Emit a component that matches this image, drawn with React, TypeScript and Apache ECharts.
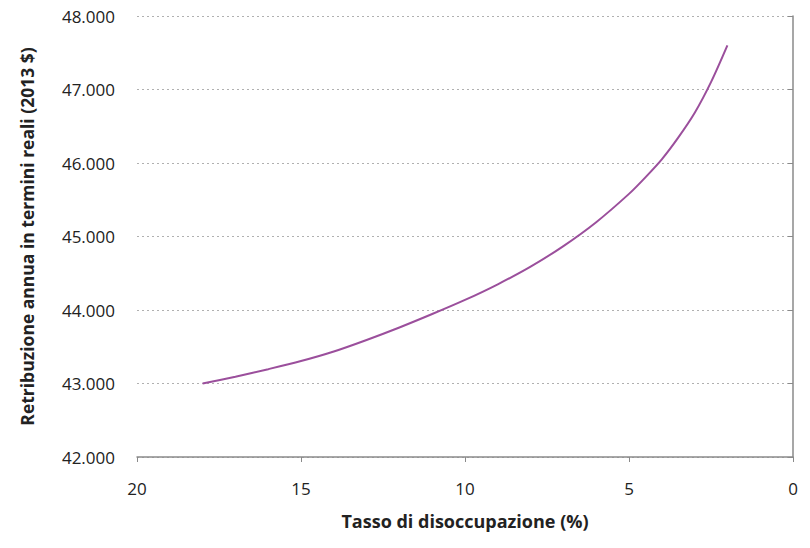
import React, { useEffect, useRef } from "react";
import * as echarts from "echarts";

const unemployment = [18, 17, 16, 15, 14, 13, 12, 11, 10, 9, 8, 7, 6, 5, 4.5, 4, 3.5, 3, 2.5, 2];
const wage = [43000, 43093, 43195, 43305, 43435, 43592, 43762, 43945, 44137, 44350, 44590, 44870, 45195, 45580, 45805, 46050, 46345, 46680, 47100, 47600];

const xTicks = { min: 0, max: 20, interval: 5 };
const yTicks = { min: 42000, max: 48000, interval: 1000 };

const fmt = (v: number) => {
  const s = Math.round(v).toString();
  return s.replace(/\B(?=(\d{3})+(?!\d))/g, ".");
};

export default function App() {
  const ref = useRef<HTMLDivElement>(null);
  useEffect(() => {
    if (!ref.current) return;
    const chart = echarts.init(ref.current, null, { renderer: "svg" });
    const font = "'Open Sans', 'Noto Sans', sans-serif";
    chart.setOption({
      animation: false,
      backgroundColor: "#ffffff",
      grid: { left: 137, right: 17, top: 16, bottom: 91 },
      xAxis: {
        type: "value",
        inverse: true,
        min: xTicks.min,
        max: xTicks.max,
        interval: xTicks.interval,
        name: "Tasso di disoccupazione (%)",
        nameLocation: "middle",
        nameGap: 55,
        nameTextStyle: { fontFamily: font, fontSize: 18, fontWeight: "bold", color: "#222" },
        axisLine: { show: true, lineStyle: { color: "#8a8a8a", width: 1.5 } },
        axisTick: { show: true, length: 5, lineStyle: { color: "#8a8a8a" } },
        axisLabel: { fontFamily: font, fontSize: 17, color: "#222", margin: 23 },
        splitLine: { show: false },
      },
      yAxis: {
        type: "value",
        min: yTicks.min,
        max: yTicks.max,
        interval: yTicks.interval,
        name: "Retribuzione annua in termini reali (2013 $)",
        nameLocation: "middle",
        nameGap: 101,
        nameTextStyle: { fontFamily: font, fontSize: 17.5, fontWeight: "bold", color: "#222" },
        axisLine: { show: true, lineStyle: { color: "#8a8a8a", width: 1.5 } },
        axisTick: { show: true, length: 5, lineStyle: { color: "#8a8a8a" } },
        axisLabel: { fontFamily: font, fontSize: 17, color: "#222", margin: 22, formatter: (v: number) => fmt(v) },
        splitLine: { show: true, lineStyle: { color: "#b0b0b0", type: [2, 3], width: 1 } },
      },
      series: [
        {
          type: "line",
          smooth: 0.3,
          symbol: "none",
          data: unemployment.map((u, i) => [u, wage[i]]),
          lineStyle: { color: "#9b4f9c", width: 2 },
        },
      ],
    });
    return () => chart.dispose();
  }, []);
  return <div ref={ref} style={{ position: "absolute", left: 0, top: 0, width: 810, height: 548 }} />;
}
